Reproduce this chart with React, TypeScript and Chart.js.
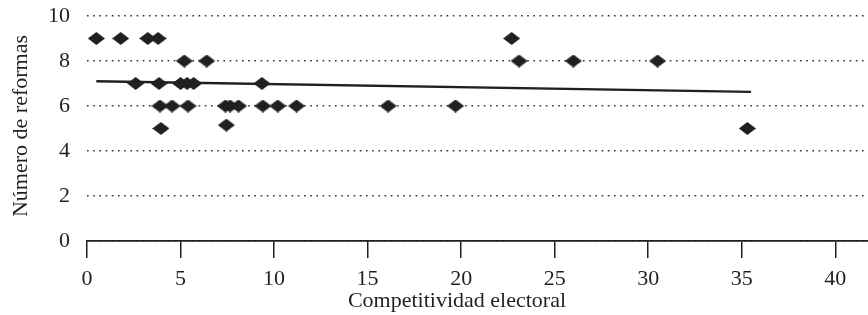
import React, { useEffect, useRef } from "react";
import { Chart, registerables } from "chart.js";

Chart.register(...registerables);

// Scatter data: Competitividad electoral (x) vs Número de reformas (y)
const competitividad = [
  0.5, 1.8, 3.25, 3.8, 22.7,
  5.2, 6.4, 23.1, 26.0, 30.5,
  2.6, 3.85, 5.0, 5.35, 5.7, 9.35,
  3.9, 4.55, 5.4, 7.4, 7.65, 8.1, 9.4, 10.2, 11.2, 16.1, 19.7,
  3.95, 7.45, 35.3,
];
const reformas = [
  9, 9, 9, 9, 9,
  8, 8, 8, 8, 8,
  7, 7, 7, 7, 7, 7,
  6, 6, 6, 6, 6, 6, 6, 6, 6, 6, 6,
  5, 5.15, 5,
];
// Linear trend line endpoints
const trendX = [0.5, 35.5];
const trendY = [7.1, 6.63];

const xTicks = [0, 5, 10, 15, 20, 25, 30, 35, 40];
const yTicks = [0, 2, 4, 6, 8, 10];

const xTitle = "Competitividad electoral";
const yTitle = "Número de reformas";

const INK = "#231f20";
const FONT = "'Liberation Serif', 'DejaVu Serif', serif";

function makeDiamond(): HTMLCanvasElement {
  const c = document.createElement("canvas");
  const w = 17;
  const h = 13;
  c.width = w;
  c.height = h;
  const ctx = c.getContext("2d")!;
  ctx.fillStyle = INK;
  ctx.beginPath();
  ctx.moveTo(w / 2, 0);
  ctx.lineTo(w, h / 2);
  ctx.lineTo(w / 2, h);
  ctx.lineTo(0, h / 2);
  ctx.closePath();
  ctx.fill();
  return c;
}

// Stretch the plot area to the right edge of the canvas
const fullWidthPlugin = {
  id: "fullWidth",
  afterLayout(chart: any) {
    const area = chart.chartArea;
    const right = chart.width;
    area.right = right;
    area.width = right - area.left;
    const x = chart.scales.x;
    x.right = right;
    x.width = right - x.left;
    x.configure();
  },
};

const titlePlugin = {
  id: "axisTitles",
  afterDraw(chart: any) {
    const ctx = chart.ctx;
    ctx.save();
    ctx.fillStyle = INK;
    ctx.font = `22px ${FONT}`;
    ctx.textAlign = "center";
    ctx.textBaseline = "alphabetic";
    ctx.fillText(xTitle, 457, 307);
    ctx.translate(27, 126);
    ctx.rotate(-Math.PI / 2);
    ctx.fillText(yTitle, 0, 0);
    ctx.restore();
  },
};

export default function App() {
  const ref = useRef<HTMLCanvasElement | null>(null);

  useEffect(() => {
    if (!ref.current) return;
    const diamond = makeDiamond();
    const points = competitividad.map((x, i) => ({ x, y: reformas[i] }));
    const trend = trendX.map((x, i) => ({ x, y: trendY[i] }));
    const chart = new Chart(ref.current, {
      type: "scatter",
      data: {
        datasets: [
          {
            type: "line",
            data: trend,
            borderColor: INK,
            borderWidth: 2.3,
            pointRadius: 0,
            showLine: true,
            fill: false,
            order: 1,
          } as any,
          {
            data: points,
            pointStyle: diamond as any,
            backgroundColor: INK,
            borderColor: INK,
            order: 0,
          },
        ],
      },
      options: {
        responsive: false,
        animation: false,
        layout: { padding: { top: 16, left: 0, right: 0, bottom: 0 } },
        plugins: {
          legend: { display: false },
          tooltip: { enabled: false },
        },
        scales: {
          x: {
            type: "linear",
            min: 0,
            max: 41.75,
            afterFit: (s: any) => {
              s.height = 74;
              s.paddingLeft = 0;
              s.paddingRight = 0;
            },
            afterBuildTicks: (s: any) => {
              s.ticks = xTicks.map((v) => ({ value: v }));
            },
            ticks: {
              includeBounds: false,
              color: INK,
              font: { family: FONT, size: 22 },
              padding: 8,
              maxRotation: 0,
            },
            grid: {
              drawOnChartArea: false,
              drawTicks: true,
              tickLength: 17,
              tickColor: INK,
              lineWidth: 1.5,
            },
            border: { display: true, color: INK, width: 1.8 },
          },
          y: {
            type: "linear",
            min: 0,
            max: 10,
            afterFit: (s: any) => {
              s.width = 87;
              s.paddingTop = 0;
              s.paddingBottom = 0;
            },
            afterBuildTicks: (s: any) => {
              s.ticks = yTicks.map((v) => ({ value: v }));
            },
            ticks: {
              color: INK,
              font: { family: FONT, size: 22 },
              padding: 17,
            },
            grid: {
              drawTicks: false,
              color: "#333333",
              lineWidth: 1.6,
            },
            border: { display: false, dash: [1.6, 4.6] },
          },
        },
      },
      plugins: [fullWidthPlugin, titlePlugin],
    });
    return () => chart.destroy();
  }, []);

  return (
    <div style={{ position: "absolute", left: 0, top: 0, width: 868, height: 315, background: "#fff" }}>
      <canvas ref={ref} width={868} height={315} style={{ display: "block" }} />
    </div>
  );
}
